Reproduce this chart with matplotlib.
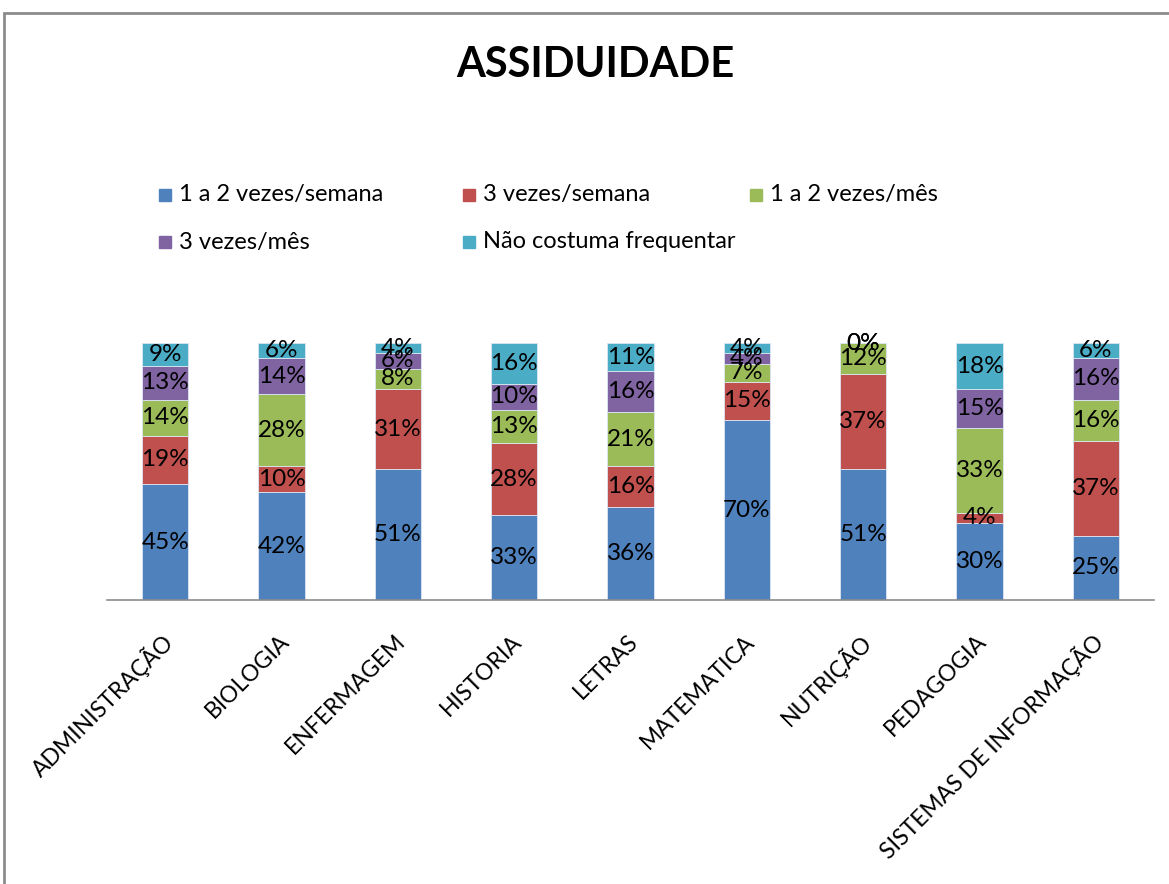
import numpy as np
import matplotlib
matplotlib.use("Agg")
import matplotlib.pyplot as plt
from matplotlib.patches import Rectangle
from matplotlib.transforms import ScaledTranslation

plt.rcParams['font.family'] = ['Lato', 'DejaVu Sans']

courses = ["ADMINISTRAÇÃO", "BIOLOGIA", "ENFERMAGEM", "HISTORIA", "LETRAS",
           "MATEMATICA", "NUTRIÇÃO", "PEDAGOGIA", "SISTEMAS DE INFORMAÇÃO"]
series_names = ["1 a 2 vezes/semana", "3 vezes/semana", "1 a 2 vezes/mês",
                "3 vezes/mês", "Não costuma frequentar"]
colors = ["#4F81BD", "#C0504D", "#9BBB59", "#8064A2", "#4BACC6"]

semana_1a2 = [45, 42, 51, 33, 36, 70, 51, 30, 25]
semana_3 = [19, 10, 31, 28, 16, 15, 37, 4, 37]
mes_1a2 = [14, 28, 8, 13, 21, 7, 12, 33, 16]
mes_3 = [13, 14, 6, 10, 16, 4, 0, 15, 16]
nao_freq = [9, 6, 4, 16, 11, 4, 0, 18, 6]

W, H = 1169, 884
fig = plt.figure(figsize=(W / 100, H / 100), dpi=100)
ax = fig.add_axes([107 / W, 1 - 600 / H, (1154 - 107) / W, (600 - 343) / H])

x = np.arange(len(courses))
bottom = np.zeros(len(courses))
for name, vals, c in zip(series_names, [semana_1a2, semana_3, mes_1a2, mes_3, nao_freq], colors):
    bars = ax.bar(x, vals, 0.4, bottom=bottom, color=c, label=name,
                  edgecolor="#dce6f2", linewidth=0.6)
    ax.bar_label(bars, labels=[f"{v}%" for v in vals], label_type="center",
                 fontsize=17.5, color="black")
    bottom += np.array(vals)

ax.set_xlim(-0.5, len(courses) - 0.5)
ax.set_ylim(0, 100)
ax.set_yticks([])
for s in ["top", "right", "left"]:
    ax.spines[s].set_visible(False)
ax.spines["bottom"].set_color("#8c8c8c")
ax.spines["bottom"].set_linewidth(1.2)
ax.tick_params(axis="x", length=0, pad=0)
ax.set_xticks(x)
ax.set_xticklabels(courses, rotation=45, ha="right", va="center",
                   rotation_mode="anchor", fontsize=16.5)
offset = ScaledTranslation(4 / 100, -38 / 100, fig.dpi_scale_trans)
for lab in ax.get_xticklabels():
    lab.set_transform(lab.get_transform() + offset)

# title
fig.text(595 / W, 1 - 65 / H, "ASSIDUIDADE", ha="center", va="center",
         fontsize=30, fontweight="bold")

# legend laid out in equal-width columns like the original
leg_pos = [(159, 195), (463, 195), (750, 195), (159, 242), (463, 242)]
for (lx, ly), name, c in zip(leg_pos, series_names, colors):
    fig.add_artist(Rectangle((lx / W, 1 - (ly + 6) / H), 12 / W, 12 / H,
                             transform=fig.transFigure, color=c))
    fig.text((lx + 20) / W, 1 - ly / H, name, ha="left", va="center", fontsize=17)

# outer frame
fig.add_artist(Rectangle((4 / W, -0.1), 2, (H - 13) / H + 0.1,
                         transform=fig.transFigure, fill=False,
                         edgecolor="#8c8c8c", linewidth=2))

fig.savefig("out.png", dpi=100)
